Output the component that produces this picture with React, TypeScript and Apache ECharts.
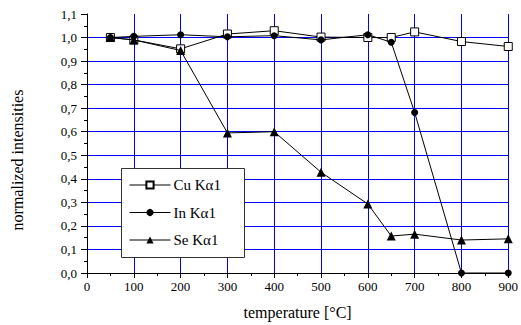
import React, { useEffect, useRef } from "react";
import * as echarts from "echarts";

const temperatures = [50, 100, 200, 300, 400, 500, 600, 650, 700, 800, 900];
const cuValues = [1.0, 0.99, 0.952, 1.015, 1.029, 1.002, 1.0, 1.0, 1.024, 0.983, 0.962];
const inValues = [1.0, 1.005, 1.012, 1.003, 1.008, 0.99, 1.012, 0.98, 0.682, 0.0, 0.0];
const seValues = [1.0, 0.99, 0.945, 0.595, 0.6, 0.428, 0.293, 0.157, 0.165, 0.14, 0.145];
const seriesNames = ["Cu K\u03b11", "In K\u03b11", "Se K\u03b11"];

const FONT = "Liberation Serif";

const pairs = (vals: number[]) => temperatures.map((t, i) => [t, vals[i]]);

export default function App() {
  const ref = useRef<HTMLDivElement>(null);
  useEffect(() => {
    if (!ref.current) return;
    const chart = echarts.init(ref.current, undefined, { renderer: "svg" });
    const lineStyle = { color: "#000", width: 1 };
    chart.setOption({
      animation: false,
      backgroundColor: "#fff",
      textStyle: { fontFamily: FONT },
      grid: { left: 87, right: 8, top: 14, bottom: 52 },
      xAxis: {
        type: "value",
        min: 0,
        max: 900,
        interval: 100,
        name: "temperature [\u00b0C]",
        nameLocation: "middle",
        nameGap: 31,
        nameTextStyle: { fontFamily: FONT, fontSize: 16, color: "#000" },
        axisLine: { show: true, lineStyle: { color: "#000", width: 1 } },
        axisTick: { show: true, inside: false, length: 5, lineStyle: { color: "#000" } },
        minorTick: { show: true, splitNumber: 2, length: 3, lineStyle: { color: "#000" } },
        axisLabel: { fontFamily: FONT, fontSize: 13, color: "#000", margin: 7 },
        splitLine: { show: true, showMinLine: false, lineStyle: { color: "#0000ff", width: 1 } },
      },
      yAxis: {
        type: "value",
        min: 0,
        max: 1.1,
        interval: 0.1,
        axisLine: { show: true, onZero: false, lineStyle: { color: "#000", width: 1 } },
        axisTick: { show: true, inside: false, length: 6, lineStyle: { color: "#000" } },
        minorTick: { show: true, splitNumber: 2, length: 3, lineStyle: { color: "#000" } },
        axisLabel: {
          fontFamily: FONT,
          fontSize: 13,
          color: "#000",
          margin: 10,
          formatter: (v: number) => v.toFixed(1).replace(".", ","),
        },
        splitLine: { show: true, showMaxLine: false, lineStyle: { color: "#0000ff", width: 1 } },
      },
      legend: {
        orient: "vertical",
        left: 129,
        top: 177.5,
        z: 101,
        itemWidth: 41,
        itemHeight: 9,
        itemGap: 12.5,
        padding: 0,
        lineStyle: { width: 1 },
        textStyle: { fontFamily: FONT, fontSize: 15, color: "#000", padding: [0, 0, 0, -2] },
        data: seriesNames,
      },
      graphic: [
        {
          type: "rect",
          z: 100,
          shape: { x: 121.5, y: 168.5, width: 123, height: 89 },
          style: { fill: "#fff", stroke: "#333", lineWidth: 1 },
        },
        {
          type: "text",
          x: 17,
          y: 160,
          rotation: Math.PI / 2,
          style: {
            text: "normalized intensities",
            font: "16px " + FONT,
            fill: "#000",
            align: "center",
            verticalAlign: "middle",
          },
        },
      ],
      series: [
        {
          name: seriesNames[0],
          type: "line",
          data: pairs(cuValues),
          symbol: "rect",
          symbolSize: 8,
          lineStyle,
          itemStyle: { color: "#fff", borderColor: "#000", borderWidth: 1 },
          z: 3,
        },
        {
          name: seriesNames[1],
          type: "line",
          data: pairs(inValues),
          symbol: "circle",
          symbolSize: 7,
          lineStyle,
          itemStyle: { color: "#000", borderColor: "#000", borderWidth: 0 },
          z: 4,
        },
        {
          name: seriesNames[2],
          type: "line",
          data: pairs(seValues),
          symbol: "triangle",
          symbolSize: 9,
          lineStyle,
          itemStyle: { color: "#000", borderColor: "#000", borderWidth: 0 },
          z: 5,
        },
      ],
    });
    return () => chart.dispose();
  }, []);
  return <div ref={ref} style={{ width: 521, height: 325, position: "absolute", left: 0, top: 0 }} />;
}
